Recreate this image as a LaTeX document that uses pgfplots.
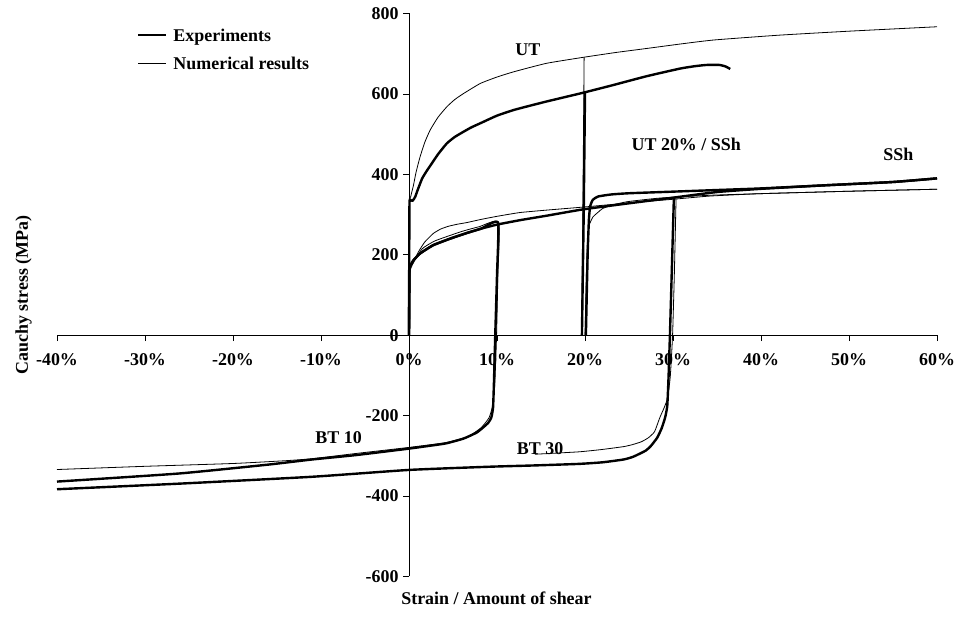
\documentclass[border=0pt]{standalone}
\usepackage{fontspec}
\setmainfont{Liberation Serif}
\usepackage{pgfplots}
\pgfplotsset{compat=1.18}

\newcommand{\lbl}{\fontsize{18}{20}\selectfont\bfseries}
\tikzset{exp/.style={black, line width=2.4bp, line join=round, smooth, tension=0.3},
         num/.style={black, line width=0.8bp, line join=round, smooth, tension=0.3}}

\begin{document}
\begin{tikzpicture}
\useasboundingbox (0,0) rectangle (960bp,621bp);
\begin{axis}[
    at={(57bp,44.5bp)}, anchor=south west,
    scale only axis, width=880bp, height=563bp,
    xmin=-40, xmax=60, ymin=-600, ymax=800,
    axis lines*=middle,
    axis line style={black, line width=0.8bp},
    xtick={-40,-30,...,60},
    xticklabels={-40\%,-30\%,-20\%,-10\%,0\%,10\%,20\%,30\%,40\%,50\%,60\%},
    ytick={-600,-400,...,800},
    yticklabels={-600,-400,-200,0,200,400,600,800},
    tick align=outside, major tick length=6bp,
    tick style={black, line width=0.8bp},
    hide obscured x ticks=false, hide obscured y ticks=false,
    ticklabel style={font=\lbl},
    xticklabel style={anchor=north, yshift=-9bp},
    yticklabel style={anchor=east, xshift=-1bp},
    xlabel={Strain / Amount of shear},
    ylabel={Cauchy stress (MPa)},
    every axis x label/.style={at={(axis description cs:0.4994,-0.038)}, anchor=center, font=\lbl},
    every axis y label/.style={at={(axis description cs:-0.038,0.5)}, anchor=center, rotate=90, font=\lbl},
    legend style={draw=none, fill=none, inner sep=0pt, outer sep=0pt,
        at={(axis cs:-30.9,710.6)}, anchor=west, font=\lbl,
        row sep=14.7bp, column sep=6bp,
        nodes={inner sep=0pt, text height=13bp, text depth=1bp}},
    legend cell align=left,
    legend image code/.code={\draw[#1, sharp plot] (0bp,0bp) -- (28bp,0bp);},
    clip=false,
]
\addlegendimage{exp}
\addlegendentry{Experiments}
\addlegendimage{num}
\addlegendentry{Numerical results}

% uniaxial tension, experiment
\addplot[exp, forget plot] table {
0 0
0.05 320
0.15 336
0.4 334
0.7 344
1.0 362
1.5 390
2.0 408
2.4 421
3.3 450
4.3 477
5.2 493
6.2 506
7.1 517
8.1 527
10 546
11.9 560
13.8 571
15.6 581
17.7 592
19.8 603
23.2 622
27 644
30.8 663
32.5 669
33.8 672
35.3 672
36.0 668
36.5 662
};
% uniaxial tension, numerical
\addplot[num, forget plot] table {
0 0
0.05 320
0.2 345
0.5 372
0.8 405
1.25 443
1.8 480
2.4 510
3.3 542
4.3 568
5.2 586
6.2 601
8.1 626
10 642
11.9 655
15.6 676
19.8 691
23.5 703
27 713
30.8 724
34.6 734
42 746
50 756
60 767
};
% UT 20% unloading
\addplot[exp, forget plot] table {
20.0 603
19.85 300
19.65 0
};
\addplot[num, forget plot] table {
19.9 691
19.75 300
19.6 0
};
% UT 20% / SSh reloading
\addplot[exp, forget plot] table {
20.1 0
20.3 200
20.45 290
20.6 322
20.9 337
21.5 345
23 350
25 353
30 357
35 361
40 365
47.5 373
55 381
60 390
};
\addplot[num, forget plot] table {
20.0 0
20.15 150
20.3 245
20.5 275
20.9 294
21.5 306
22 315
23 323
24.8 332
28.5 341
34.2 348
40 352
50 358
60 363
};
% simple shear, experiment
\addplot[exp, forget plot] table {
0 0
0.05 150
0.1 170
0.5 186
1.25 203
2 214
2.76 224
3.7 232
4.66 240
6.55 254
8.2 265
10 275
12.6 286
15.6 297
19.8 313
25 328
30 342
35 356
40 364
47.5 373
55 381
60 390
};
% simple shear, numerical
\addplot[num, forget plot] table {
0 0
0.05 140
0.2 172
0.68 191
1.2 212
1.8 232
2.76 253
3.6 264
4.5 271
5.5 276
6.55 280
8.2 288
10.1 296
12.6 305
15.6 311
20 319
25 329
30 338
34.2 346
40 352
50 358
60 363
};
% BT 10, experiment
\addplot[exp, forget plot] table {
0 0
0.05 150
0.1 170
0.5 186
1.25 203
2.76 224
4.66 240
6.55 254
8.2 265
10.1 280
10.0 150
9.8 0
9.65 -120
9.55 -180
9.35 -205
9.0 -218
8.5 -228
7.7 -242
6.2 -257
4.2 -269
2 -276
0 -282
-6 -298
-11 -309
-16.1 -322
-26.2 -344
-40 -364
};
% BT 10, numerical
\addplot[num, forget plot] table {
0 0
0.05 150
0.5 180
1.5 215
3 235
6 258
8 270
10.2 281
10.1 150
9.95 0
9.75 -120
9.5 -175
9.1 -205
8.2 -230
6.7 -252
4.2 -267
0 -279
-6 -294
-11 -307
-14 -312
-20 -319
-30 -326
-40 -334
};
% BT 30, experiment
\addplot[exp, forget plot] table {
30.1 342
29.85 150
29.65 0
29.5 -100
29.35 -175
29.1 -205
28.7 -232
28.2 -255
27.5 -275
26.9 -287
25.5 -302
24.4 -309
22 -316
19.3 -320
14 -324
9.2 -327
0 -335
-11 -352
-26 -369
-40 -383
};
% BT 30, numerical
\addplot[num, forget plot] table {
30.35 342
30.15 150
29.95 0
29.7 -100
29.4 -155
29.0 -180
28.5 -205
27.9 -240
27.2 -255
26.4 -265
25.4 -272
24.4 -277
22 -284
19.3 -290
14.3 -296
};

\node[font=\lbl] at (axis cs:13.5,711) {UT};
\node[font=\lbl] at (axis cs:31.5,475) {UT 20\% / SSh};
\node[font=\lbl] at (axis cs:55.6,450) {SSh};
\node[font=\lbl] at (axis cs:-8,-255) {BT 10};
\node[font=\lbl] at (axis cs:14.9,-281) {BT 30};
\end{axis}
\end{tikzpicture}
\end{document}
